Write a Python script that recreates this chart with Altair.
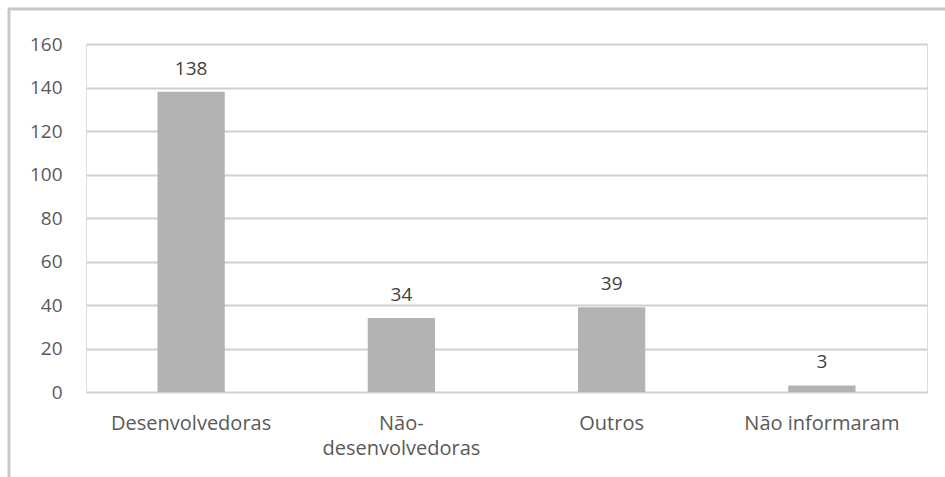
import altair as alt
import pandas as pd

categories = ["Desenvolvedoras", "Não-desenvolvedoras", "Outros", "Não informaram"]
values = [138, 34, 39, 3]
y_ticks = [0, 20, 40, 60, 80, 100, 120, 140, 160]

df = pd.DataFrame({"categoria": categories, "valor": values})

FONT = "Open Sans"
W, H = 841, 348

x_enc = alt.X(
    "categoria:N",
    sort=categories,
    scale=alt.Scale(paddingInner=0.68, paddingOuter=0.34),
    axis=alt.Axis(
        title=None,
        domain=False,
        ticks=False,
        labelAngle=0,
        labelFont=FONT,
        labelFontSize=20,
        labelColor="#595959",
        labelPadding=21,
        labelLineHeight=25,
        labelExpr="datum.label == 'Não-desenvolvedoras' ? ['Não-', 'desenvolvedoras'] : datum.label",
    ),
)
y_enc = alt.Y(
    "valor:Q",
    scale=alt.Scale(domain=[0, 160], nice=False),
    axis=alt.Axis(
        title=None,
        values=y_ticks,
        domain=False,
        ticks=False,
        grid=True,
        gridColor="#d0d0d0",
        gridWidth=2,
        labelFont=FONT,
        labelFontSize=19,
        labelColor="#595959",
        labelPadding=24,
    ),
)

base = alt.Chart(df)

bars = base.mark_bar(color="#b3b3b3").encode(x=x_enc, y=y_enc)
labels = base.mark_text(
    baseline="alphabetic", dy=-17, font=FONT, fontSize=19, color="#404040"
).encode(x=alt.X("categoria:N", sort=categories), y="valor:Q", text="valor:Q")

frame_left = alt.Chart(pd.DataFrame({"a": [0]})).mark_rule(color="#c8c8c8", strokeWidth=3).encode(
    x=alt.value(-77), y=alt.value(-35), y2=alt.value(H + 90)
)
frame_top = alt.Chart(pd.DataFrame({"a": [0]})).mark_rule(color="#c8c8c8", strokeWidth=3).encode(
    y=alt.value(-35), x=alt.value(-78), x2=alt.value(W + 30)
)

chart = (
    alt.layer(bars, labels, frame_left, frame_top)
    .properties(
        width=W,
        height=H,
        autosize=alt.AutoSizeParams(type="none"),
        padding={"left": 86, "top": 44, "right": 18, "bottom": 85},
    )
    .configure_view(stroke=None)
    .configure(background="white")
)

chart.save("out.html", embed_options={"renderer": "svg", "actions": False})
